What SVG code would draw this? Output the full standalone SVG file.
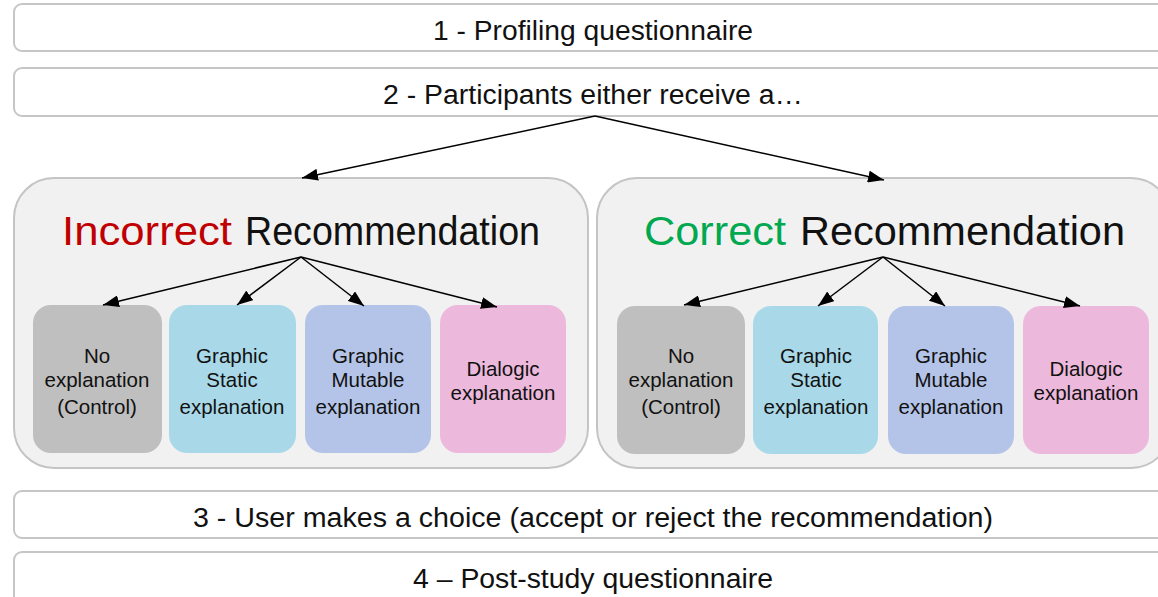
<svg xmlns="http://www.w3.org/2000/svg" width="1158" height="597" viewBox="0 0 1158 597">
<defs>
<marker id="ahb" markerWidth="16" markerHeight="12" refX="16" refY="6" orient="auto" markerUnits="userSpaceOnUse" viewBox="0 0 16 12">
<path d="M0,0 L16,6 L0,12 z" fill="#000"/>
</marker>
</defs>
<style>
text{font-family:"Liberation Sans",Arial,sans-serif;fill:#111;text-anchor:middle}
.bar{fill:#fff;stroke:#c6c6c6;stroke-width:2}
.bt{font-size:27px}
.panel{fill:#f1f1f1;stroke:#c4c4c4;stroke-width:2}
.title{font-size:40px;text-anchor:start}
.box{stroke:none}
.bx{font-size:20.5px}
.c1{fill:#bfbfbf}.c2{fill:#a9d9e8}.c3{fill:#b4c4e8}.c4{fill:#ecb8dc}
.conn line{stroke:#000;stroke-width:1.5;marker-end:url(#ahb)}
</style>
<g id="step1"><rect class="bar" x="14" y="4" width="1160" height="47" rx="8"/><text class="bt" x="593" y="40" textLength="320" lengthAdjust="spacingAndGlyphs">1 - Profiling questionnaire</text></g>
<g id="step2"><rect class="bar" x="14" y="68" width="1160" height="48" rx="8"/><text class="bt" x="593" y="104" textLength="420" lengthAdjust="spacingAndGlyphs">2 - Participants either receive a…</text></g>
<g id="incorrect">
<rect class="panel" x="14" y="178" width="574" height="290" rx="40"/>
<text class="title" x="62" y="245" textLength="170" lengthAdjust="spacingAndGlyphs" style="fill:#c00000">Incorrect</text>
<text class="title" x="245" y="245" textLength="295" lengthAdjust="spacingAndGlyphs">Recommendation</text>
</g>
<g id="correct">
<rect class="panel" x="597" y="178" width="574" height="290" rx="40"/>
<text class="title" x="644" y="245" textLength="142" lengthAdjust="spacingAndGlyphs" style="fill:#00a84f">Correct</text>
<text class="title" x="800" y="245" textLength="325" lengthAdjust="spacingAndGlyphs">Recommendation</text>
</g>
<g id="inc-none"><rect class="box c1" x="33" y="305" width="129" height="148" rx="18"/><text class="bx" x="97" y="363">No</text><text class="bx" x="97" y="387">explanation</text><text class="bx" x="97" y="414">(Control)</text></g>
<g id="inc-static"><rect class="box c2" x="169" y="305" width="127" height="148" rx="18"/><text class="bx" x="232" y="363">Graphic</text><text class="bx" x="232" y="387">Static</text><text class="bx" x="232" y="414">explanation</text></g>
<g id="inc-mutable"><rect class="box c3" x="305" y="305" width="126" height="148" rx="18"/><text class="bx" x="368" y="363">Graphic</text><text class="bx" x="368" y="387">Mutable</text><text class="bx" x="368" y="414">explanation</text></g>
<g id="inc-dialogic"><rect class="box c4" x="440" y="305" width="126" height="148" rx="18"/><text class="bx" x="503" y="376">Dialogic</text><text class="bx" x="503" y="400">explanation</text></g>
<g id="cor-none"><rect class="box c1" x="617" y="306" width="128" height="148" rx="18"/><text class="bx" x="681" y="363">No</text><text class="bx" x="681" y="387">explanation</text><text class="bx" x="681" y="414">(Control)</text></g>
<g id="cor-static"><rect class="box c2" x="753" y="306" width="125" height="148" rx="18"/><text class="bx" x="816" y="363">Graphic</text><text class="bx" x="816" y="387">Static</text><text class="bx" x="816" y="414">explanation</text></g>
<g id="cor-mutable"><rect class="box c3" x="888" y="306" width="126" height="148" rx="18"/><text class="bx" x="951" y="363">Graphic</text><text class="bx" x="951" y="387">Mutable</text><text class="bx" x="951" y="414">explanation</text></g>
<g id="cor-dialogic"><rect class="box c4" x="1023" y="306" width="126" height="148" rx="18"/><text class="bx" x="1086" y="376">Dialogic</text><text class="bx" x="1086" y="400">explanation</text></g>
<g id="step3"><rect class="bar" x="14" y="491" width="1160" height="47" rx="8"/><text class="bt" x="593" y="527" textLength="800" lengthAdjust="spacingAndGlyphs">3 - User makes a choice (accept or reject the recommendation)</text></g>
<g id="step4"><rect class="bar" x="14" y="552" width="1160" height="60" rx="8"/><text class="bt" x="593" y="588" textLength="360" lengthAdjust="spacingAndGlyphs">4 – Post-study questionnaire</text></g>
<g id="connectors" class="conn">
<line x1="595" y1="116" x2="302" y2="178"/>
<line x1="595" y1="116" x2="884" y2="180"/>
<line x1="301" y1="257" x2="103" y2="305"/>
<line x1="301" y1="257" x2="237" y2="305"/>
<line x1="301" y1="257" x2="364" y2="306"/>
<line x1="301" y1="257" x2="497" y2="307"/>
<line x1="883" y1="257" x2="684" y2="305"/>
<line x1="883" y1="257" x2="818" y2="306"/>
<line x1="883" y1="257" x2="945" y2="306"/>
<line x1="883" y1="257" x2="1080" y2="306"/>
</g>
</svg>
